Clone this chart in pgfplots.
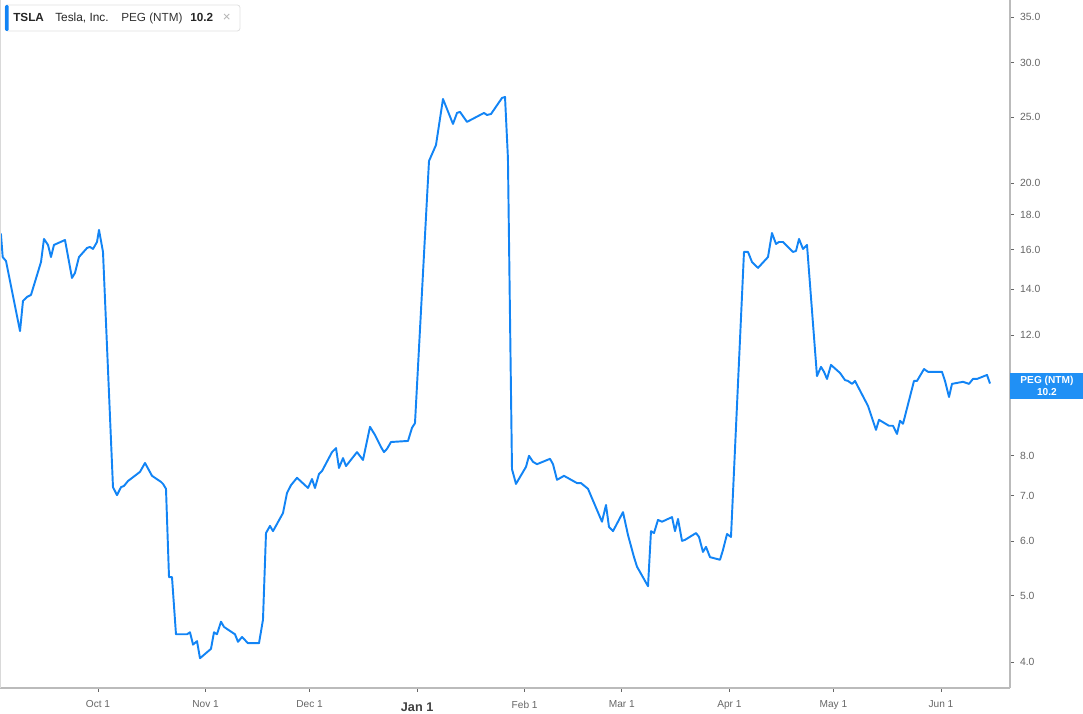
\documentclass[border=0pt]{standalone}
\usepackage{pgfplots}
\pgfplotsset{compat=1.18}
\usepackage{fontspec}
\setmainfont{Liberation Sans}
\definecolor{linecol}{HTML}{1284F5}
\definecolor{boxcol}{HTML}{2090F5}
\definecolor{tickgray}{HTML}{666666}
\definecolor{framegray}{HTML}{BBBBBB}
\begin{document}
\begin{tikzpicture}
\path[use as bounding box] (0pt,0pt) rectangle (812.25pt,535.5pt);
\begin{axis}[
  at={(0pt,19.5pt)}, anchor=south west,
  scale only axis, width=757.5pt, height=516pt,
  ymode=log,
  xmin=-28.25, xmax=262.9,
  ymin=3.665, ymax=37.05,
  axis x line*=bottom, axis y line*=right,
  axis line style={framegray, line width=1.1pt},
  xtick={0,31,61,92,123,151,182,212,243},
  xticklabels={Oct 1,Nov 1,Dec 1,{\fontsize{9.5}{11}\selectfont\bfseries\color{black!75}\rule{0pt}{8pt}Jan 1},Feb 1,Mar 1,Apr 1,May 1,Jun 1},
  ytick={4,5,6,7,8,10,12,14,16,18,20,25,30,35},
  yticklabels={4.0,5.0,6.0,7.0,8.0,10.0,12.0,14.0,16.0,18.0,20.0,25.0,30.0,35.0},
  log ticks with fixed point,
  /pgf/number format/assume math mode=true,
  tick style={tickgray, line width=0.6pt},
  major tick length=3pt,
  tick align=outside,
  minor tick num=0,
  yticklabel style={font=\fontsize{7.8}{9}\selectfont, text=tickgray, anchor=west, xshift=1pt},
  xticklabel style={font=\fontsize{7.6}{9}\selectfont, text=tickgray, anchor=north, yshift=-3pt},
  clip=true,
]
\addplot[linecol, line width=1.45pt, line join=round, mark=none] coordinates {
(-28.1,16.9) (-27.96,16.81) (-27.47,15.61) (-26.52,15.40) (-22.48,12.17) (-21.62,13.47)
(-20.47,13.65) (-19.32,13.74) (-16.43,15.35) (-15.57,16.59) (-14.41,16.26) (-13.55,15.61)
(-12.68,16.26) (-9.51,16.53) (-7.50,14.55) (-6.63,14.80) (-5.48,15.61) (-3.17,16.09)
(-2.31,16.15) (-1.44,16.04) (-0.29,16.42) (0.29,17.10) (1.44,15.88) (4.32,7.20)
(5.48,7.01) (6.63,7.20) (7.49,7.23) (8.65,7.35) (12.11,7.58) (13.55,7.81)
(15.57,7.48) (18.16,7.33) (18.74,7.28) (19.60,7.16) (20.47,5.32) (21.33,5.32)
(22.48,4.39) (25.66,4.39) (26.52,4.42) (27.39,4.24) (28.54,4.29) (29.40,4.05)
(32.57,4.18) (33.44,4.42) (34.30,4.39) (35.46,4.58) (36.32,4.50) (39.49,4.39)
(40.36,4.28) (41.51,4.35) (43.24,4.26) (46.41,4.26) (47.56,4.61) (48.43,6.17)
(49.58,6.32) (50.45,6.21) (53.33,6.60) (54.48,7.06) (55.64,7.25) (57.37,7.43)
(60.54,7.18) (61.69,7.40) (62.55,7.18) (63.71,7.53) (64.57,7.60) (67.46,8.10)
(68.61,8.21) (69.47,7.68) (70.63,7.94) (71.49,7.73) (74.66,8.10) (76.39,7.89)
(78.41,8.82) (79.85,8.58) (81.58,8.24) (82.44,8.10) (83.31,8.19) (84.46,8.38)
(89.36,8.41) (90.52,8.79) (91.38,8.93) (94.84,19.04) (95.42,21.56) (97.43,22.75)
(99.45,26.56) (102.33,24.42) (103.49,25.34) (104.35,25.43) (106.37,24.59) (111.27,25.34)
(112.14,25.17) (113.29,25.25) (116.46,26.65) (117.33,26.74) (118.17,21.78) (119.34,7.65)
(120.49,7.28) (123.38,7.71) (124.24,8.00) (125.40,7.84) (126.55,7.78) (130.30,7.92)
(131.16,7.78) (132.32,7.38) (134.33,7.48) (138.08,7.30) (139.23,7.30) (141.25,7.16)
(145.28,6.41) (146.44,6.78) (147.30,6.30) (148.46,6.21) (151.34,6.62) (152.78,6.13)
(154.51,5.69) (155.38,5.51) (158.55,5.16) (159.41,6.21) (160.28,6.17) (161.43,6.45)
(162.58,6.41) (165.47,6.51) (166.33,6.21) (167.20,6.47) (168.35,6.01) (169.21,6.03)
(172.39,6.17) (173.25,6.09) (174.40,5.79) (175.27,5.89) (176.42,5.69) (179.30,5.64)
(180.17,5.83) (181.32,6.15) (182.47,6.09) (186.22,15.88) (187.37,15.88) (188.53,15.35)
(190.26,15.05) (193.14,15.61) (194.29,16.92) (195.45,16.31) (196.31,16.42) (197.46,16.42)
(200.35,15.88) (201.21,15.93) (202.08,16.59) (203.23,16.04) (204.38,16.26) (207.26,10.46)
(208.42,10.79) (209.28,10.61) (210.15,10.36) (211.30,10.86) (213.90,10.57) (215.34,10.32)
(216.20,10.29) (217.36,10.19) (218.22,10.29) (221.97,9.46) (224.27,8.73) (225.14,9.03)
(228.02,8.85) (229.17,8.85) (230.33,8.61) (231.19,9.00) (232.06,8.91) (235.23,10.29)
(236.09,10.29) (238.11,10.71) (239.26,10.61) (243.30,10.61) (244.16,10.29) (245.32,9.75)
(246.18,10.19) (249.35,10.26) (251.08,10.19) (252.23,10.36) (253.39,10.36) (256.27,10.50)
(257.14,10.20)
};
\end{axis}
% left frame line
\draw[color=black!15, line width=0.6pt] (0.3pt,19.5pt) -- (0.3pt,535.5pt);
% legend box
\draw[draw=black!12, fill=white, rounded corners=2pt, line width=0.6pt] (3.75pt,512.25pt) rectangle (180pt,531.75pt);
\fill[linecol, rounded corners=1pt] (3.75pt,512.25pt) rectangle (6.5pt,531.75pt);
\node[anchor=base west, inner sep=0pt, font=\fontsize{8.8}{10}\selectfont\bfseries, text=black!85] at (9.75pt,519.5pt) {TSLA};
\node[anchor=base west, inner sep=0pt, font=\fontsize{8.9}{10}\selectfont, text=black!85] at (41.25pt,519.5pt) {Tesla, Inc.};
\node[anchor=base west, inner sep=0pt, font=\fontsize{8.8}{10}\selectfont, text=black!80] at (90.75pt,519.5pt) {PEG (NTM)};
\node[anchor=base west, inner sep=0pt, font=\fontsize{8.8}{10}\selectfont\bfseries, text=black!85] at (142.5pt,519.5pt) {10.2};
\node[anchor=base west, inner sep=0pt, font=\fontsize{10}{10}\selectfont, text=black!30] at (167pt,519.5pt) {×};
% value box on right (covers the 10.0 tick label, as in the reference)
\fill[boxcol] (757.5pt,236.25pt) rectangle (812.25pt,255.75pt);
\node[inner sep=0pt, font=\fontsize{7.6}{8}\selectfont\bfseries, text=white] at (785.2pt,250pt) {PEG (NTM)};
\node[inner sep=0pt, font=\fontsize{7.6}{8}\selectfont\bfseries, text=white] at (785.2pt,241.5pt) {10.2};
\end{tikzpicture}
\end{document}
